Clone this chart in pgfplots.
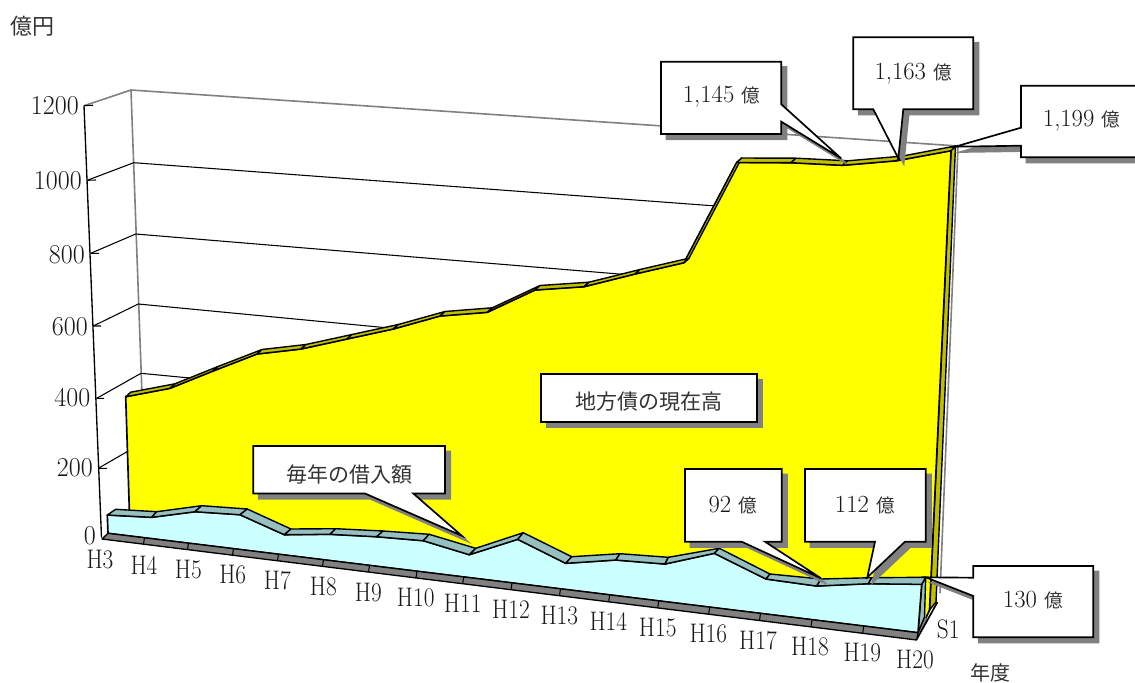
\documentclass[border=0pt]{standalone}
\usepackage{fontspec}
\usepackage{graphicx}
\usepackage{pgfplots}
\pgfplotsset{compat=1.18}
\newfontfamily\jp{Noto Sans CJK JP}
\definecolor{pureyellow}{RGB}{255,255,0}
\definecolor{yellowtop}{RGB}{192,192,0}
\definecolor{bluetop}{RGB}{150,192,192}
\definecolor{bluefront}{RGB}{204,255,255}
\definecolor{shade}{RGB}{128,128,128}
% Positions below are screen positions of the oblique 3-D view, y measured downward.
\newcommand\strip[5]{\addplot[fill=#1,draw=black,line width=1.05pt,line join=round] coordinates {#2 #3 #4 #5} -- cycle;}
\newcommand\callout[1]{%
  \addplot[fill=shade,draw=shade,line width=1.25pt,xshift=4pt,yshift=-4pt] coordinates {#1} -- cycle;
  \addplot[fill=white,draw=black,line width=1.25pt,line join=miter] coordinates {#1} -- cycle;}
\newcommand\tl[3]{\node[anchor=east,inner sep=0pt,text=black!90] at (axis cs:#1,#2) {\fontsize{19.5}{20}\selectfont\scalebox{1}[1.05]{#3}};}
\newcommand\cl[3]{\node[inner sep=0pt,text=black!90] at (axis cs:#1,#2) {\fontsize{17.5}{18}\selectfont\scalebox{1}[1.15]{#3}};}
\newcommand\lb[4]{\node[inner sep=0pt,text=black!90] at (axis cs:#1,#2) {\fontsize{#3}{18}\selectfont #4};}
\newcommand\oku{{\color{black!80}\jp\fontsize{14}{18}\selectfont 億}}
\begin{document}
\begin{tikzpicture}
\useasboundingbox (0,0) rectangle (851.25pt,511.5pt);
\begin{axis}[
  at={(0,0)}, anchor=south west,
  scale only axis, width=851.25pt, height=511.5pt,
  xmin=0, xmax=1135, ymin=0, ymax=682, y dir=reverse,
  axis lines=none, clip=true, unbounded coords=jump]

% back wall and side wall
\addplot[draw=shade,line width=1.2pt] coordinates {(84,105.7) (131,90) (958,146) (940,593)};
\addplot[draw=shade,line width=1.2pt] coordinates {(131,90) (142,395)};
% gridlines
\addplot[draw=black,line width=.8pt] coordinates {(87.3,180.3) (133.7,162.7) (720,206.3)};
\addplot[draw=black,line width=.8pt] coordinates {(90.7,253.3) (135.7,234) (625,274.5)};
\addplot[draw=black,line width=.8pt] coordinates {(93.3,326) (138.3,304) (410,330)};
\addplot[draw=black,line width=.8pt] coordinates {(96.7,398.3) (141,373.3) (195,378.5)};
\addplot[draw=black,line width=.8pt] coordinates {(98.3,468.3) (130,450)};

% outstanding balance: side face, front face, top faces
\strip{yellowtop}{(951,150.7)}{(955.5,146)}{(936,602)}{(929.5,610)}
\addplot[fill=pureyellow,draw=black,line width=1.25pt,line join=round] coordinates {
  (130,530) (125.7,396.7) (170,388.3) (213,371) (257,354) (301,349) (347,339) (393.3,329)
  (440,316) (487.3,312.3) (535,290) (584,286.7) (635,274) (684,262.7) (736.7,162.5)
  (791,162.7) (842.7,165.3) (896.7,160.7) (951,150.7) (929.5,610) (925,620)} -- cycle;
\strip{yellowtop}{(125.7,396.7)}{(130.7,392.2)}{(175,383.8)}{(170,388.3)}
\strip{yellowtop}{(170,388.3)}{(175,383.8)}{(218,366.5)}{(213,371)}
\strip{yellowtop}{(213,371)}{(218,366.5)}{(262,349.5)}{(257,354)}
\strip{yellowtop}{(257,354)}{(262,349.5)}{(306,344.5)}{(301,349)}
\strip{yellowtop}{(301,349)}{(306,344.5)}{(352,334.5)}{(347,339)}
\strip{yellowtop}{(347,339)}{(352,334.5)}{(398.3,324.5)}{(393.3,329)}
\strip{yellowtop}{(393.3,329)}{(398.3,324.5)}{(445,311.5)}{(440,316)}
\strip{yellowtop}{(440,316)}{(445,311.5)}{(492.3,307.8)}{(487.3,312.3)}
\strip{yellowtop}{(487.3,312.3)}{(492.3,307.8)}{(540,285.5)}{(535,290)}
\strip{yellowtop}{(535,290)}{(540,285.5)}{(589,282.2)}{(584,286.7)}
\strip{yellowtop}{(584,286.7)}{(589,282.2)}{(640,269.5)}{(635,274)}
\strip{yellowtop}{(635,274)}{(640,269.5)}{(689,258.2)}{(684,262.7)}
\strip{yellowtop}{(684,262.7)}{(689,258.2)}{(741.7,158)}{(736.7,162.5)}
\strip{yellowtop}{(736.7,162.5)}{(741.7,158)}{(796,158.2)}{(791,162.7)}
\strip{yellowtop}{(791,162.7)}{(796,158.2)}{(847.7,160.8)}{(842.7,165.3)}
\strip{yellowtop}{(842.7,165.3)}{(847.7,160.8)}{(901.7,156.2)}{(896.7,160.7)}
\strip{yellowtop}{(896.7,160.7)}{(901.7,156.2)}{(955.5,146)}{(951,150.7)}

% floor corner
\addplot[fill=shade,draw=none] coordinates {(924.5,616) (928,621) (921,632) (918,632.7)} -- cycle;
\addplot[draw=black,line width=1.25pt] coordinates {(916.7,639.3) (937.5,602)};

% yearly borrowing: side face, front face, top faces
\strip{bluetop}{(921.7,584.3)}{(925.7,577.3)}{(924.5,617)}{(918,632.7)}
\addplot[fill=bluefront,draw=black,line width=1.25pt,line join=round] coordinates {
  (108,533.3) (107.3,515) (151.7,517.3) (195,511.7) (240,514.7) (284.3,534.7) (330,534.3)
  (376.7,536.7) (423.3,540.7) (469.3,554.7) (517.7,539.3) (565.7,563.3) (615.7,560)
  (665,564) (714.3,553.3) (766,579) (816.7,586) (868.3,583.7) (921.7,584.3) (918,632.7)} -- cycle;
\strip{bluetop}{(107.3,515)}{(115.7,509.3)}{(156.7,511.7)}{(151.7,517.3)}
\strip{bluetop}{(151.7,517.3)}{(156.7,511.7)}{(201.7,505.7)}{(195,511.7)}
\strip{bluetop}{(195,511.7)}{(201.7,505.7)}{(247.3,509)}{(240,514.7)}
\strip{bluetop}{(240,514.7)}{(247.3,509)}{(291,529)}{(284.3,534.7)}
\strip{bluetop}{(284.3,534.7)}{(291,529)}{(335.7,528.7)}{(330,534.3)}
\strip{bluetop}{(330,534.3)}{(335.7,528.7)}{(383,531)}{(376.7,536.7)}
\strip{bluetop}{(376.7,536.7)}{(383,531)}{(429.3,534.3)}{(423.3,540.7)}
\strip{bluetop}{(423.3,540.7)}{(429.3,534.3)}{(475.7,548.3)}{(469.3,554.7)}
\strip{bluetop}{(469.3,554.7)}{(475.7,548.3)}{(523.3,532.7)}{(517.7,539.3)}
\strip{bluetop}{(517.7,539.3)}{(523.3,532.7)}{(571.7,556.7)}{(565.7,563.3)}
\strip{bluetop}{(565.7,563.3)}{(571.7,556.7)}{(620,553.7)}{(615.7,560)}
\strip{bluetop}{(615.7,560)}{(620,553.7)}{(668.3,557.3)}{(665,564)}
\strip{bluetop}{(665,564)}{(668.3,557.3)}{(719.3,548.3)}{(714.3,553.3)}
\strip{bluetop}{(714.3,553.3)}{(719.3,548.3)}{(770,574)}{(766,579)}
\strip{bluetop}{(766,579)}{(770,574)}{(821,579)}{(816.7,586)}
\strip{bluetop}{(816.7,586)}{(821,579)}{(871.7,577.7)}{(868.3,583.7)}
\strip{bluetop}{(868.3,583.7)}{(871.7,577.7)}{(925.7,577.3)}{(921.7,584.3)}

% floor strip along the category axis with its tick marks
\addplot[fill=shade,draw=black,line width=1pt,line join=round] coordinates {(102,539) (108,533.3) (918,632.7) (916.7,640)} -- cycle;
\addplot[draw=black,line width=.8pt] coordinates {
  (144.5,537.7) (143.5,544.2) (nan,nan) (188.5,543.1) (187.5,549.6) (nan,nan)
  (233.5,548.6) (232.5,555.2) (nan,nan) (278.5,554.1) (277.5,560.8) (nan,nan)
  (323.5,559.7) (322.5,566.3) (nan,nan) (369.5,565.4) (368.5,572) (nan,nan)
  (417,571.2) (416,577.9) (nan,nan) (463.7,576.9) (462.7,583.7) (nan,nan)
  (512,582.8) (511,589.7) (nan,nan) (560.5,588.8) (559.5,595.7) (nan,nan)
  (609.7,594.8) (608.7,601.8) (nan,nan) (658.7,600.8) (657.7,607.9) (nan,nan)
  (709.7,607.1) (708.7,614.2) (nan,nan) (760.5,613.3) (759.5,620.5) (nan,nan)
  (812,619.6) (811,626.9) (nan,nan) (863.7,626) (862.7,633.3)};

% value axis with tick marks
\addplot[draw=black,line width=1pt] coordinates {(84,105.7) (101.5,537.5)};
\addplot[draw=black,line width=.8pt] coordinates {
  (84,105.7) (93,105.2) (nan,nan) (87.3,180.3) (96,180) (nan,nan)
  (90.7,253.3) (99,253.3) (nan,nan) (93.3,326) (101,326) (nan,nan)
  (96.7,398.3) (104,398.3) (nan,nan) (98.3,468.3) (107,468.3)};

% callouts
\callout{(661,61.7) (781.3,61.7) (781.3,104.3) (841,158.3) (781.3,121.7) (781.3,134) (661,134)}
\callout{(853.3,37.3) (973.3,37.3) (973.3,109.3) (903.3,109.3) (898.3,158.3) (873.3,109.3) (853.3,109.3)}
\callout{(1021,85.7) (1145,85.7) (1145,157.3) (1021,157.3) (1021,145.7) (955,146.7) (1021,127.7)}
\callout{(253.3,446) (445,446) (445,493.5) (413.3,493.5) (461.7,535.7) (365,493.5) (253.3,493.5)}
\callout{(541,374) (757,374) (757,422) (541,422)}
\callout{(685,469) (781.7,469) (781.7,541.7) (765,541.7) (821,578.3) (741.7,541.7) (685,541.7)}
\callout{(805,469) (925.7,469) (925.7,541.7) (905,541.7) (867.3,577.3) (875,541.7) (805,541.7)}
\callout{(973.3,566) (1093.3,566) (1093.3,637.3) (973.3,637.3) (973.3,596) (925.7,577.3) (973.3,577.7)}

% value axis labels
\tl{79}{106}{1200}
\tl{82}{181}{1000}
\tl{85}{255}{800}
\tl{88}{327}{600}
\tl{90.5}{398}{400}
\tl{93}{468}{200}
\tl{96}{535.5}{0}

% category labels
\cl{100}{559.5}{H3}
\cl{144}{565}{H4}
\cl{188.3}{570}{H5}
\cl{232.7}{575}{H6}
\cl{277.3}{581}{H7}
\cl{323.3}{586.7}{H8}
\cl{368.3}{592.7}{H9}
\cl{415.7}{597.3}{H10}
\cl{462.7}{603.3}{H11}
\cl{511}{609.3}{H12}
\cl{559.3}{615.7}{H13}
\cl{608.3}{621.7}{H14}
\cl{657.7}{627.3}{H15}
\cl{708.3}{634}{H16}
\cl{758}{641}{H17}
\cl{810}{646.7}{H18}
\cl{862.3}{652.7}{H19}
\cl{915}{659.3}{H20}
\cl{948.3}{629.3}{S1}

% unit and axis captions
\lb{32}{26}{16.5}{\color{black!80}\jp 億円}
\lb{990}{672.7}{15}{\color{black!80}\jp 年度}

% callout texts
\lb{721.7}{96.7}{18.5}{1,145 \oku}
\lb{913.3}{73.3}{18.5}{1,163 \oku}
\lb{1081.7}{121}{18.5}{1,199 \oku}
\lb{733}{505}{18.5}{92 \oku}
\lb{865}{505}{18.5}{112 \oku}
\lb{1033}{600}{18.5}{130 \oku}
\lb{349.5}{475}{15.75}{\color{black!80}\jp 毎年の借入額}
\lb{649}{402}{15.75}{\color{black!80}\jp 地方債の現在高}
\end{axis}
\end{tikzpicture}
\end{document}
